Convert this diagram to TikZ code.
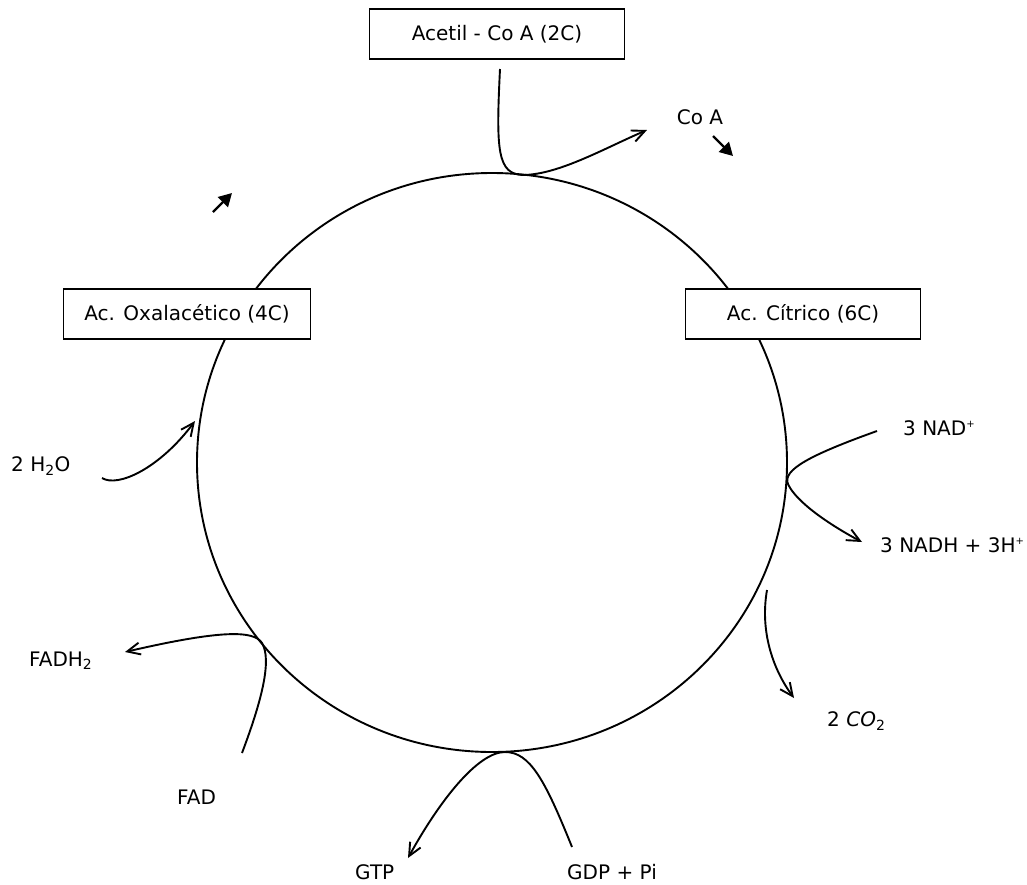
\documentclass[tikz,border=0pt]{standalone}
\usepackage{fontspec}
\setmainfont{DejaVu Sans}
\usepackage{tikz}
\usetikzlibrary{arrows.meta,positioning,shapes.geometric}

\newcommand{\ionp}{\raisebox{0.75ex}{\fontsize{10}{10}\selectfont +}}

\begin{document}
\begin{tikzpicture}[
  x=1pt,y=-1pt,
  every node/.style={font=\fontsize{20}{23}\selectfont},
  cyc/.style={draw,line width=1.9pt,ellipse,minimum width=590pt,minimum height=579pt,inner sep=0pt},
  box/.style={draw,line width=1.9pt,fill=white,minimum height=50pt,inner sep=0pt},
  lbl/.style={anchor=west,inner sep=0pt},
  flow/.style={line width=1.9pt,-{Straight Barb[length=13pt,width=12pt]}},
  pointer/.style={line width=2.4pt,-{Triangle[length=13pt,width=14pt]}}
]
\useasboundingbox (0,0) rectangle (1027,884);

\node[cyc] (C) at (492,462.5) {};

\node[box,minimum width=255pt] (AC) at (497,34)  {Acetil - Co A (2C)};
\node[box,minimum width=247pt] (OX) at (187,314) {Ac. Oxalacético (4C)};
\node[box,minimum width=235pt] (CI) at (803,314) {Ac. Cítrico (6C)};

\node[anchor=center,inner sep=0pt] (CoA)  at (700,117) {Co A};
\node[lbl] (NAD)  at (903,428) {3 NAD\ionp};
\node[lbl] (NADH) at (880,545) {3 NADH + 3H\ionp};
\node[lbl] (CO)   at (827,721) {2 \textit{CO}\textsubscript{2}};
\node[lbl] (HO)   at (11,466)  {2 H\textsubscript{2}O};
\node[lbl] (FH)   at (29,661)  {FADH\textsubscript{2}};
\node[lbl] (FAD)  at (177,797) {FAD};
\node[lbl] (GTP)  at (355,872) {GTP};
\node[lbl] (GDP)  at (567,872) {GDP + Pi};

\coordinate (acS)  at (500,69);
\coordinate (acT)  at (647,130);
\coordinate (nadS) at (877,431);
\coordinate (nadT) at (862,542);
\coordinate (coS)  at (767,590);
\coordinate (coT)  at (794,698);
\coordinate (hoS)  at (102,478);
\coordinate (hoT)  at (195,421);
\coordinate (fadS) at (242,753);
\coordinate (fadT) at (125,652);
\coordinate (gdpS) at (572,847);
\coordinate (gdpT) at (408,858);
\coordinate (m1S)  at (213,212);
\coordinate (m1T)  at (232,193);
\coordinate (m2S)  at (713,136);
\coordinate (m2T)  at (733,156);

\draw[flow] (acS) .. controls (496,150) and (497,175) .. (524,175)
                  .. controls (560,174) and (605,148) .. (acT);
\draw[flow] (nadS) .. controls (810,455) and (782,470) .. (788,484)
                   .. controls (796,502) and (830,525) .. (nadT);
\draw[flow] (coS) .. controls (760,630) and (772,668) .. (coT);
\draw[flow] (hoS) .. controls (118,488) and (160,468) .. (hoT);
\draw[flow] (fadS) .. controls (262,700) and (272,660) .. (262,643)
                   .. controls (254,630) and (220,630) .. (fadT);
\draw[flow] (gdpS) .. controls (545,780) and (530,752) .. (505,752)
                   .. controls (478,752) and (440,800) .. (gdpT);

\draw[pointer] (m1S) -- (m1T);
\draw[pointer] (m2S) -- (m2T);
\end{tikzpicture}
\end{document}
